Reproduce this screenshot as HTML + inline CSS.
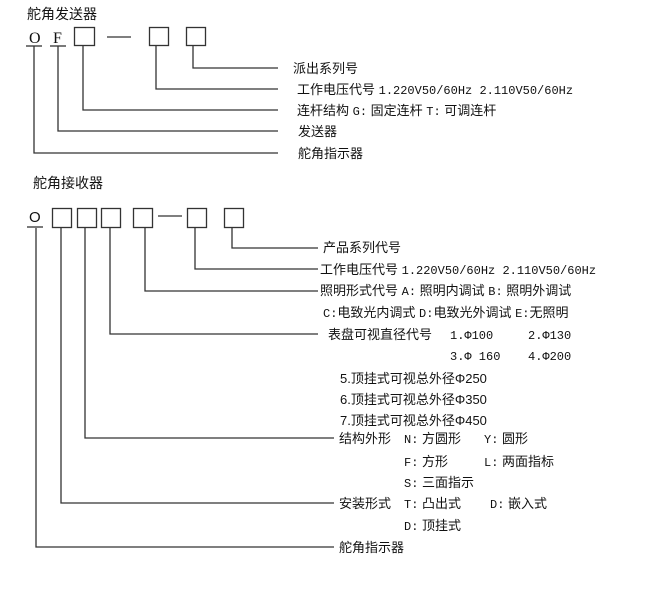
<!DOCTYPE html>
<html><head><meta charset="utf-8"><style>
html,body{margin:0;padding:0;background:#fff;}
svg{display:block;}
text{font-family:"Liberation Sans","Noto Sans CJK SC",sans-serif;font-size:13px;fill:#111;}
.m{font-family:"Liberation Mono","Noto Sans CJK SC",monospace;font-size:12px;}
.s{font-family:"Liberation Serif",serif;}
</style></head><body>
<svg width="650" height="591" viewBox="0 0 650 591" xmlns="http://www.w3.org/2000/svg">
<g stroke="#333" stroke-width="1.3" fill="none">
<line x1="26" y1="46" x2="42" y2="46"/><line x1="50" y1="46" x2="66" y2="46"/>
<rect x="74.5" y="27.5" width="20" height="18"/>
<rect x="149.5" y="27.5" width="19" height="18"/>
<rect x="186.5" y="27.5" width="19" height="18"/>
<line x1="107" y1="37" x2="131" y2="37"/>
<polyline points="193,46 193,68 278,68"/>
<polyline points="156,46 156,89 278,89"/>
<polyline points="83,46 83,110 278,110"/>
<polyline points="58,46 58,131 278,131"/>
<polyline points="34,46 34,153 278,153"/>
<line x1="27" y1="227" x2="43" y2="227"/>
<rect x="52.5" y="208.5" width="19" height="19"/>
<rect x="77.5" y="208.5" width="19" height="19"/>
<rect x="101.5" y="208.5" width="19" height="19"/>
<rect x="133.5" y="208.5" width="19" height="19"/>
<rect x="187.5" y="208.5" width="19" height="19"/>
<rect x="224.5" y="208.5" width="19" height="19"/>
<line x1="158" y1="216" x2="182" y2="216"/>
<polyline points="232,228 232,248 318,248"/>
<polyline points="195,228 195,269 318,269"/>
<polyline points="145,228 145,291 318,291"/>
<polyline points="110,228 110,334 318,334"/>
<polyline points="85,228 85,438 334,438"/>
<polyline points="61,228 61,503 334,503"/>
<polyline points="36,228 36,547 334,547"/>
</g>
<text x="27" y="19" style="font-size:14px">舵角发送器</text>
<text x="29" y="43" class="s" style="font-size:16px">O</text>
<text x="53" y="43" class="s" style="font-size:16px">F</text>
<text x="293" y="73">派出系列号</text>
<text x="297" y="94">工作电压代号 <tspan class="m">1.220V50/60Hz 2.110V50/60Hz</tspan></text>
<text x="297" y="115">连杆结构 <tspan class="m">G:</tspan> 固定连杆 <tspan class="m">T:</tspan> 可调连杆</text>
<text x="298" y="136">发送器</text>
<text x="298" y="158">舵角指示器</text>

<text x="33" y="188" style="font-size:14px">舵角接收器</text>
<text x="29" y="222" style="font-size:15px">O</text>
<text x="323" y="252">产品系列代号</text>
<text x="320" y="274">工作电压代号 <tspan class="m">1.220V50/60Hz 2.110V50/60Hz</tspan></text>
<text x="320" y="295">照明形式代号 <tspan class="m">A:</tspan> 照明内调试 <tspan class="m">B:</tspan> 照明外调试</text>
<text x="323" y="317"><tspan class="m">C:</tspan>电致光内调式 <tspan class="m">D:</tspan>电致光外调试 <tspan class="m">E:</tspan>无照明</text>
<text x="328" y="339">表盘可视直径代号</text>
<text x="450" y="339" class="m">1.Φ100</text><text x="528" y="339" class="m">2.Φ130</text>
<text x="450" y="360" class="m">3.Φ 160</text><text x="528" y="360" class="m">4.Φ200</text>
<text x="340" y="383">5.顶挂式可视总外径Φ250</text>
<text x="340" y="404">6.顶挂式可视总外径Φ350</text>
<text x="340" y="425">7.顶挂式可视总外径Φ450</text>
<text x="339" y="443">结构外形</text><text x="404" y="443"><tspan class="m">N:</tspan> 方圆形</text><text x="484" y="443"><tspan class="m">Y:</tspan> 圆形</text>
<text x="404" y="466"><tspan class="m">F:</tspan> 方形</text><text x="484" y="466"><tspan class="m">L:</tspan> 两面指标</text>
<text x="404" y="487"><tspan class="m">S:</tspan> 三面指示</text>
<text x="339" y="508">安装形式</text><text x="404" y="508"><tspan class="m">T:</tspan> 凸出式</text><text x="490" y="508"><tspan class="m">D:</tspan> 嵌入式</text>
<text x="404" y="530"><tspan class="m">D:</tspan> 顶挂式</text>
<text x="339" y="552">舵角指示器</text>
</svg>
</body></html>
